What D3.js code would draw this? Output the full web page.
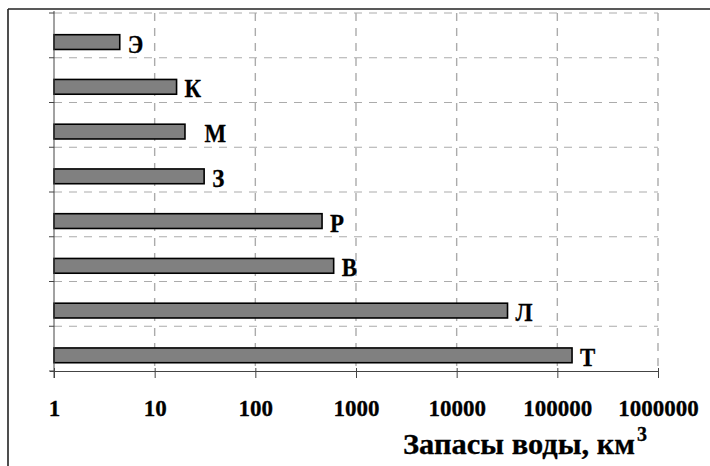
<!DOCTYPE html>
<html>
<head>
<meta charset="utf-8">
<script src="https://cdn.jsdelivr.net/npm/d3@7"></script>
<style>
  html, body { margin: 0; padding: 0; background: #fff; }
  svg { display: block; }
  text { font-family: "Liberation Serif", "Times New Roman", serif; font-weight: bold; fill: #000; }
</style>
</head>
<body>
<svg id="chart" width="710" height="466"></svg>
<script>
// Water stores by category, top to bottom, km³
const categories = ["Э", "К", "М", "З", "Р", "В", "Л", "Т"];
const barLabels = ["Э", "К", "\u00a0\u00a0М", "З", "Р", "В", "Л", "Т"];
const values = [4.5, 16.5, 20, 31, 460, 600, 32000, 140000];
const tickValues = [1, 10, 100, 1000, 10000, 100000, 1000000];
const tickLabels = ["1", "10", "100", "1000", "10000", "100000", "1000000"];

const svg = d3.select("#chart");

const plot = { left: 54, right: 658, top: 13, bottom: 371 };

const x = d3.scaleLog().domain([1, 1000000]).range([plot.left, plot.right]);
const y = d3.scaleBand().domain(categories).range([plot.top, plot.bottom]).padding(0);
const bw = y.bandwidth();

// frame around the chart
svg.append("line")
  .attr("x1", 8).attr("x2", 710).attr("y1", 9).attr("y2", 9)
  .attr("stroke", "#222").attr("stroke-width", 1.6);
svg.append("line")
  .attr("x1", 8).attr("x2", 8).attr("y1", 9).attr("y2", 466)
  .attr("stroke", "#222").attr("stroke-width", 1.6);

// dashed grid
const grid = svg.append("g")
  .attr("stroke", "#ababab").attr("stroke-width", 1).attr("stroke-dasharray", "8,7").attr("fill", "none");
const bandEdges = categories.map(c => y(c));
grid.selectAll("line.h").data(bandEdges).join("line")
  .attr("class", "h")
  .attr("x1", plot.left).attr("x2", plot.right)
  .attr("y1", d => d).attr("y2", d => d);
grid.selectAll("line.v").data(tickValues.slice(1)).join("line")
  .attr("class", "v")
  .attr("x1", d => x(d)).attr("x2", d => x(d))
  .attr("y1", plot.top).attr("y2", plot.bottom)
  .attr("stroke-width", 1.4);

// bars
svg.append("g").selectAll("rect").data(values).join("rect")
  .attr("x", x(1))
  .attr("y", (d, i) => y(categories[i]) + bw * 0.485)
  .attr("width", d => x(d) - x(1))
  .attr("height", bw * 0.33)
  .attr("fill", "#808080")
  .attr("stroke", "#000")
  .attr("stroke-width", 1.6);

// bar labels (slightly condensed glyphs)
svg.append("g").selectAll("text").data(values).join("text")
  .attr("transform", (d, i) => `translate(${x(d) + 8},${y(categories[i]) + bw * 0.65 + 10.5}) scale(0.88,1)`)
  .attr("font-size", 26)
  .attr("stroke", "#000").attr("stroke-width", 0.3)
  .style("white-space", "pre")
  .text((d, i) => barLabels[i]);

// left axis with ticks at band edges
const yAxisG = svg.append("g").attr("stroke", "#444").attr("stroke-width", 1);
yAxisG.append("line")
  .attr("x1", plot.left).attr("x2", plot.left)
  .attr("y1", plot.top - 2).attr("y2", plot.bottom + 7);
yAxisG.selectAll("line.t").data(bandEdges.concat([plot.bottom])).join("line")
  .attr("class", "t")
  .attr("x1", plot.left - 5).attr("x2", plot.left)
  .attr("y1", d => d).attr("y2", d => d);

// bottom axis
const xAxis = d3.axisBottom(x)
  .tickValues(tickValues)
  .tickFormat((d, i) => tickLabels[i])
  .tickSizeInner(7)
  .tickSizeOuter(0);
const xAxisG = svg.append("g")
  .attr("transform", `translate(0,${plot.bottom})`)
  .call(xAxis);
xAxisG.select(".domain")
  .attr("stroke", "#444")
  .attr("d", `M${plot.left - 4},0.5H${plot.right}`);
xAxisG.selectAll(".tick line").attr("stroke", "#444").attr("y1", -3);
xAxisG.selectAll(".tick text")
  .attr("y", 45).attr("dy", null)
  .attr("font-size", 23)
  .attr("font-family", "Liberation Serif, Times New Roman, serif")
  .attr("font-weight", "bold")
  .attr("fill", "#000")
  .attr("stroke", "#000").attr("stroke-width", 0.3);

// axis title
const title = svg.append("text")
  .attr("x", 403).attr("y", 454)
  .attr("font-size", 30)
  .attr("stroke", "#000").attr("stroke-width", 0.3);
title.append("tspan").attr("textLength", 232).attr("lengthAdjust", "spacingAndGlyphs").text("Запасы воды, км");
title.append("tspan").attr("font-size", 20).attr("dx", 2).attr("dy", -13).text("3");
</script>
</body>
</html>
